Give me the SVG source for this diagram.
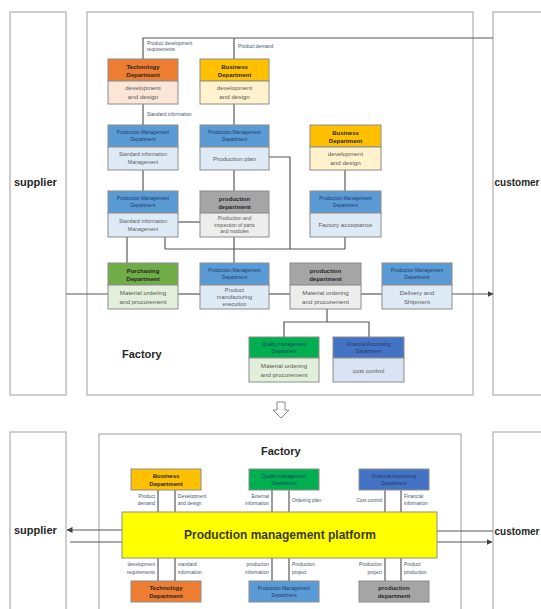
<svg xmlns="http://www.w3.org/2000/svg" width="541" height="609" viewBox="0 0 541 609">
<style>
.frame{fill:#fff;stroke:#BFBFBF;stroke-width:1.5}
.ln{stroke:#595959;stroke-width:1.2;fill:none}
.bx{stroke:#8C8C8C;stroke-width:1}
text{font-family:"Liberation Sans",Arial,sans-serif}
.hd{font-size:6px;font-weight:bold;fill:#262626;text-anchor:middle}
.hs{font-size:4.8px;fill:#1F3864;text-anchor:middle}
.bd{font-size:6.2px;fill:#595959;text-anchor:middle}
.lb{font-size:4.8px;fill:#44546A}
.big{font-size:11px;font-weight:bold;fill:#262626}
.cus{font-size:10px;font-weight:bold;fill:#262626}
</style>
<defs>
<marker id="ar" viewBox="0 0 6 6" refX="5.5" refY="3" markerWidth="5" markerHeight="5" orient="auto-start-reverse"><path d="M0,0L6,3L0,6z" fill="#404040"/></marker>
</defs>
<rect width="541" height="609" fill="#fff"/>

<g id="supplier-top"><rect class="frame" x="10" y="12" width="56" height="383"/><text class="big" x="14" y="186">supplier</text></g>
<g id="factory-top"><rect class="frame" x="87" y="12" width="386" height="383"/><text class="big" x="122" y="358">Factory</text></g>
<g id="customer-top"><rect class="frame" x="493" y="12" width="60" height="383"/><text class="cus" x="494.5" y="186">customer</text></g>

<g id="supplier-bottom"><rect class="frame" x="10" y="432" width="56" height="190"/><text class="big" x="14" y="534">supplier</text></g>
<g id="factory-bottom"><rect class="frame" x="99" y="434" width="362" height="190"/><text class="big" x="261" y="455">Factory</text></g>
<g id="customer-bottom"><rect class="frame" x="493" y="432" width="60" height="190"/><text class="cus" x="494.5" y="535">customer</text></g>

<g id="connectors">
<polyline class="ln" points="143,59 143,38 493,38"/>
<line class="ln" x1="234" y1="59" x2="234" y2="38"/>
<line class="ln" x1="143" y1="104" x2="143" y2="125"/>
<line class="ln" x1="234" y1="104" x2="234" y2="125"/>
<line class="ln" x1="143" y1="170" x2="143" y2="191"/>
<line class="ln" x1="234" y1="170" x2="234" y2="191"/>
<line class="ln" x1="345" y1="170" x2="345" y2="191"/>
<line class="ln" x1="178" y1="222" x2="200" y2="222"/>
<polyline class="ln" points="269,157 290,157 290,249"/>
<line class="ln" x1="345" y1="237" x2="345" y2="249"/>
<line class="ln" x1="165" y1="249" x2="345" y2="249"/>
<line class="ln" x1="165" y1="237" x2="165" y2="249"/>
<line class="ln" x1="127" y1="237" x2="127" y2="263"/>
<line class="ln" x1="234" y1="237" x2="234" y2="263"/>
<line class="ln" x1="66" y1="294" x2="108" y2="294"/>
<line class="ln" x1="178" y1="294" x2="200" y2="294"/>
<line class="ln" x1="269" y1="294" x2="290" y2="294"/>
<line class="ln" x1="361" y1="294" x2="382" y2="294"/>
<line class="ln" x1="452" y1="294" x2="493" y2="294" marker-end="url(#ar)"/>
<polyline class="ln" points="327,309 327,322"/>
<polyline class="ln" points="284,337 284,322 369,322 369,337"/>
<line class="ln" x1="158" y1="490" x2="158" y2="512"/>
<line class="ln" x1="175" y1="490" x2="175" y2="512"/>
<line class="ln" x1="272" y1="490" x2="272" y2="512"/>
<line class="ln" x1="289" y1="490" x2="289" y2="512"/>
<line class="ln" x1="385" y1="490" x2="385" y2="512"/>
<line class="ln" x1="401" y1="490" x2="401" y2="512"/>
<line class="ln" x1="158" y1="558" x2="158" y2="581"/>
<line class="ln" x1="175" y1="558" x2="175" y2="581"/>
<line class="ln" x1="272" y1="558" x2="272" y2="581"/>
<line class="ln" x1="289" y1="558" x2="289" y2="581"/>
<line class="ln" x1="385" y1="558" x2="385" y2="581"/>
<line class="ln" x1="401" y1="558" x2="401" y2="581"/>
<line class="ln" x1="122" y1="530" x2="67" y2="530" marker-end="url(#ar)"/>
<line class="ln" x1="70" y1="542" x2="122" y2="542"/>
<line class="ln" x1="437" y1="531" x2="493" y2="531"/>
<line class="ln" x1="437" y1="542" x2="492" y2="542" marker-end="url(#ar)"/>
</g>

<g id="conn-labels">
<text class="lb" x="147" y="45">Product development</text>
<text class="lb" x="147" y="51">requirements</text>
<text class="lb" x="238" y="48">Product demand</text>
<text class="lb" x="147" y="116">Standard information</text>
<text class="lb" x="155" y="498" text-anchor="end">Product</text>
<text class="lb" x="155" y="505" text-anchor="end">demand</text>
<text class="lb" x="178" y="498">Development</text>
<text class="lb" x="178" y="505">and design</text>
<text class="lb" x="269" y="498" text-anchor="end">External</text>
<text class="lb" x="269" y="505" text-anchor="end">information</text>
<text class="lb" x="292" y="502">Ordering plan</text>
<text class="lb" x="382" y="502" text-anchor="end">Cost control</text>
<text class="lb" x="404" y="498">Financial</text>
<text class="lb" x="404" y="505">information</text>
<text class="lb" x="155" y="566" text-anchor="end">development</text>
<text class="lb" x="155" y="574" text-anchor="end">requirements</text>
<text class="lb" x="178" y="566">standard</text>
<text class="lb" x="178" y="574">information</text>
<text class="lb" x="269" y="566" text-anchor="end">production</text>
<text class="lb" x="269" y="574" text-anchor="end">information</text>
<text class="lb" x="292" y="566">Production</text>
<text class="lb" x="292" y="574">project</text>
<text class="lb" x="382" y="566" text-anchor="end">Production</text>
<text class="lb" x="382" y="574" text-anchor="end">project</text>
<text class="lb" x="404" y="566">Product</text>
<text class="lb" x="404" y="574">production</text>
</g>

<g id="tech-top"><rect class="bx" x="108" y="59" width="70" height="22" fill="#ED7D31"/><rect class="bx" x="108" y="81" width="70" height="23" fill="#FBE5D6"/>
<text class="hd" x="143" y="68.5">Technology</text><text class="hd" x="143" y="76.5">Department</text>
<text class="bd" x="143" y="90">development</text><text class="bd" x="143" y="99">and design</text></g>

<g id="business-top"><rect class="bx" x="200" y="59" width="69" height="22" fill="#FFC000"/><rect class="bx" x="200" y="81" width="69" height="23" fill="#FFF2CC"/>
<text class="hd" x="234.5" y="68.5">Business</text><text class="hd" x="234.5" y="76.5">Department</text>
<text class="bd" x="234.5" y="90">development</text><text class="bd" x="234.5" y="99">and design</text></g>

<g id="pmd-std1"><rect class="bx" x="108" y="125" width="70" height="22" fill="#5B9BD5"/><rect class="bx" x="108" y="147" width="70" height="23" fill="#DEEBF7"/>
<text class="hs" x="143" y="134">Production Management</text><text class="hs" x="143" y="141">Department</text>
<text class="bd" x="143" y="156" style="font-size:5.2px">Standard information</text><text class="bd" x="143" y="164" style="font-size:5.2px">Management</text></g>

<g id="pmd-plan"><rect class="bx" x="200" y="125" width="69" height="22" fill="#5B9BD5"/><rect class="bx" x="200" y="147" width="69" height="23" fill="#DEEBF7"/>
<text class="hs" x="234.5" y="134">Production Management</text><text class="hs" x="234.5" y="141">Department</text>
<text class="bd" x="234.5" y="161">Production plan</text></g>

<g id="business-right"><rect class="bx" x="310" y="125" width="71" height="22" fill="#FFC000"/><rect class="bx" x="310" y="147" width="71" height="23" fill="#FFF2CC"/>
<text class="hd" x="345.5" y="134.5">Business</text><text class="hd" x="345.5" y="142.5">Department</text>
<text class="bd" x="345.5" y="156">development</text><text class="bd" x="345.5" y="165">and design</text></g>

<g id="pmd-std2"><rect class="bx" x="108" y="191" width="70" height="22" fill="#5B9BD5"/><rect class="bx" x="108" y="213" width="70" height="24" fill="#DEEBF7"/>
<text class="hs" x="143" y="200">Production Management</text><text class="hs" x="143" y="207">Department</text>
<text class="bd" x="143" y="223" style="font-size:5.2px">Standard information</text><text class="bd" x="143" y="231" style="font-size:5.2px">Management</text></g>

<g id="production-mid"><rect class="bx" x="200" y="191" width="69" height="22" fill="#A5A5A5"/><rect class="bx" x="200" y="213" width="69" height="24" fill="#EDEDED"/>
<text class="hd" x="234.5" y="200.5">production</text><text class="hd" x="234.5" y="208.5">department</text>
<text class="bd" x="234.5" y="220" style="font-size:5px">Production and</text><text class="bd" x="234.5" y="226.5" style="font-size:5px">inspection of parts</text><text class="bd" x="234.5" y="233" style="font-size:5px">and modules</text></g>

<g id="pmd-accept"><rect class="bx" x="310" y="191" width="71" height="22" fill="#5B9BD5"/><rect class="bx" x="310" y="213" width="71" height="24" fill="#DEEBF7"/>
<text class="hs" x="345.5" y="200">Production Management</text><text class="hs" x="345.5" y="207">Department</text>
<text class="bd" x="345.5" y="227">Factory acceptance</text></g>

<g id="purchasing"><rect class="bx" x="108" y="263" width="70" height="22" fill="#70AD47"/><rect class="bx" x="108" y="285" width="70" height="24" fill="#E2EFDA"/>
<text class="hd" x="143" y="272.5">Purchasing</text><text class="hd" x="143" y="280.5">Department</text>
<text class="bd" x="143" y="295">Material ordering</text><text class="bd" x="143" y="303.5">and procurement</text></g>

<g id="pmd-exec"><rect class="bx" x="200" y="263" width="69" height="22" fill="#5B9BD5"/><rect class="bx" x="200" y="285" width="69" height="24" fill="#DEEBF7"/>
<text class="hs" x="234.5" y="272">Production Management</text><text class="hs" x="234.5" y="279">Department</text>
<text class="bd" x="234.5" y="292" style="font-size:5.6px">Product</text><text class="bd" x="234.5" y="299" style="font-size:5.6px">manufacturing</text><text class="bd" x="234.5" y="306" style="font-size:5.6px">execution</text></g>

<g id="production-row4"><rect class="bx" x="290" y="263" width="71" height="22" fill="#A5A5A5"/><rect class="bx" x="290" y="285" width="71" height="24" fill="#EDEDED"/>
<text class="hd" x="325.5" y="272.5">production</text><text class="hd" x="325.5" y="280.5">department</text>
<text class="bd" x="325.5" y="295">Material ordering</text><text class="bd" x="325.5" y="303.5">and procurement</text></g>

<g id="pmd-delivery"><rect class="bx" x="382" y="263" width="70" height="22" fill="#5B9BD5"/><rect class="bx" x="382" y="285" width="70" height="24" fill="#DEEBF7"/>
<text class="hs" x="417" y="272">Production Management</text><text class="hs" x="417" y="279">Department</text>
<text class="bd" x="417" y="295">Delivery and</text><text class="bd" x="417" y="304">Shipment</text></g>

<g id="quality-top"><rect class="bx" x="249" y="337" width="70" height="21" fill="#00B050"/><rect class="bx" x="249" y="358" width="70" height="24" fill="#E2EFDA"/>
<text class="hs" x="284" y="346">Quality management</text><text class="hs" x="284" y="353">Department</text>
<text class="bd" x="284" y="368">Material ordering</text><text class="bd" x="284" y="377">and procurement</text></g>

<g id="finance-top"><rect class="bx" x="333" y="337" width="71" height="21" fill="#4472C4"/><rect class="bx" x="333" y="358" width="71" height="24" fill="#DAE3F3"/>
<text class="hs" x="368.5" y="346">Financial Accounting</text><text class="hs" x="368.5" y="353">Department</text>
<text class="bd" x="368.5" y="373">cost control</text></g>

<g id="down-arrow"><polygon points="277,402 285,402 285,410 289,410 281,418 273,410 277,410" fill="#fff" stroke="#8C8C8C" stroke-width="1"/></g>

<g id="business-bottom"><rect class="bx" x="131" y="469" width="70" height="21" fill="#FFC000"/>
<text class="hd" x="166" y="478">Business</text><text class="hd" x="166" y="486">Department</text></g>
<g id="quality-bottom"><rect class="bx" x="249" y="469" width="70" height="21" fill="#00B050"/>
<text class="hs" x="284" y="478">Quality management</text><text class="hs" x="284" y="485">Department</text></g>
<g id="finance-bottom"><rect class="bx" x="359" y="469" width="70" height="21" fill="#4472C4"/>
<text class="hs" x="394" y="478">Financial Accounting</text><text class="hs" x="394" y="485">Department</text></g>
<g id="platform"><rect class="bx" x="122" y="512" width="315" height="46" fill="#FFFF00"/>
<text x="280" y="539" text-anchor="middle" style="font-size:12px;font-weight:bold;fill:#3A3A00">Production management platform</text></g>
<g id="tech-bottom"><rect class="bx" x="131" y="581" width="70" height="21" fill="#ED7D31"/>
<text class="hd" x="166" y="590">Technology</text><text class="hd" x="166" y="598">Department</text></g>
<g id="pmd-bottom"><rect class="bx" x="249" y="581" width="70" height="21" fill="#5B9BD5"/>
<text class="hs" x="284" y="590">Production Management</text><text class="hs" x="284" y="597">Department</text></g>
<g id="production-bottom"><rect class="bx" x="359" y="581" width="70" height="21" fill="#A5A5A5"/>
<text class="hd" x="394" y="590">production</text><text class="hd" x="394" y="598">department</text></g>
</svg>
